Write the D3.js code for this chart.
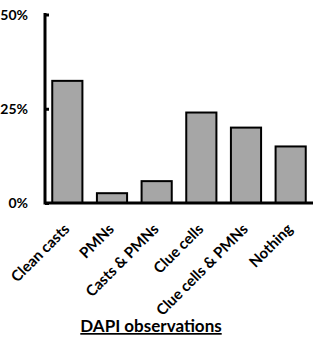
<!DOCTYPE html>
<html><head><meta charset="utf-8">
<script src="https://cdn.jsdelivr.net/npm/d3@7"></script>
<style>body{margin:0;background:#fff}svg{display:block}text{font-family:Lato,"Open Sans",sans-serif;font-weight:bold}</style>
</head><body><svg width="322" height="340"></svg>
<script>
const categories = ["Clean casts","PMNs","Casts & PMNs","Clue cells","Clue cells & PMNs","Nothing"];
const values = [32.4, 2.6, 5.8, 24, 20, 15];
const yTicks = [0, 25, 50];
const xTitle = "DAPI observations";

const svg = d3.select("svg");
const x = d3.scaleBand().domain(categories).range([45, 313]).paddingInner(0.28).paddingOuter(0.14);
const y = d3.scaleLinear().domain([0, 50]).range([203, 14.5]);

svg.selectAll("rect.bar").data(values).join("rect")
  .attr("class","bar")
  .attr("x",(d,i)=>x(categories[i])+1)
  .attr("y",d=>y(d))
  .attr("width",x.bandwidth()-2)
  .attr("height",d=>y(0)-y(d))
  .attr("fill","#a6a6a6").attr("stroke","#000").attr("stroke-width",2);

// y axis
const ya = svg.append("g").attr("transform","translate(45,0)")
  .call(d3.axisRight(y).tickValues(yTicks).tickSize(4).tickFormat(""));
ya.select(".domain").remove();
ya.selectAll("line").attr("stroke","#000").attr("stroke-width",3);
svg.append("line").attr("x1",45).attr("x2",45).attr("y1",y(50)-1.5).attr("y2",y(0)+1.5)
  .attr("stroke","#000").attr("stroke-width",3);
svg.selectAll("text.yt").data(yTicks).join("text").attr("class","yt")
  .attr("x",28).attr("y",d=>y(d)+5).attr("text-anchor","end")
  .attr("font-size",14).text(d=>d+"%");

// x axis
svg.append("line").attr("x1",45).attr("x2",313).attr("y1",y(0)).attr("y2",y(0))
  .attr("stroke","#000").attr("stroke-width",3);
svg.selectAll("text.xt").data(categories).join("text").attr("class","xt")
  .attr("transform",d=>`translate(${x(d)+x.bandwidth()/2+3},${y(0)+27}) rotate(-45)`)
  .attr("text-anchor","end").attr("font-size",15).text(d=>d);

svg.append("text").attr("x",151).attr("y",332).attr("text-anchor","middle")
  .attr("font-size",17).attr("text-decoration","underline").text(xTitle);
</script></body></html>
